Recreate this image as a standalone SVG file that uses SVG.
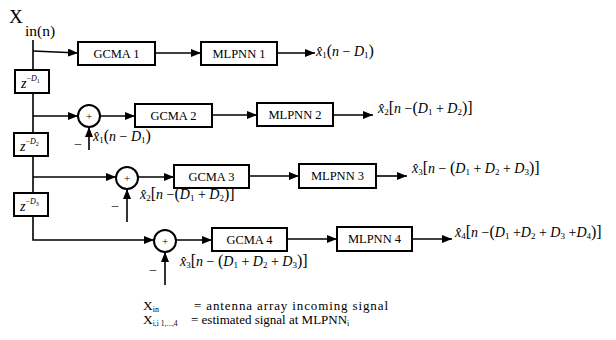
<svg xmlns="http://www.w3.org/2000/svg" width="616" height="340" viewBox="0 0 616 340" font-family="'Liberation Serif','Times New Roman',serif">
<style>
.box{fill:#fff;stroke:#000;stroke-width:2}
.lbl{font-family:"Liberation Serif","Times New Roman",serif;font-size:12.5px;text-anchor:middle;fill:#000}
.ln{fill:none;stroke:#000;stroke-width:1.6}
.m{font-family:"Liberation Serif","Times New Roman",serif;font-size:14px;fill:#000}
.i{font-style:italic}
.s{font-size:9px}
.p{font-size:16px}
.t{font-family:"Liberation Serif","Times New Roman",serif;fill:#000}
</style>
<defs>
<marker id="ah" markerWidth="10" markerHeight="8" refX="10" refY="4" orient="auto" markerUnits="userSpaceOnUse"><path d="M0,0 L10,4 L0,8 z" fill="#000"/></marker>
</defs>
<g id="connectors">
<path class="ln" d="M33,40 V240 H154" marker-end="url(#ah)"/>
<path class="ln" d="M33,51 L78,53" marker-end="url(#ah)"/>
<path class="ln" d="M155,53 H201" marker-end="url(#ah)"/>
<path class="ln" d="M277,53 H315" marker-end="url(#ah)"/>
<path class="ln" d="M33,116 H78" marker-end="url(#ah)"/>
<path class="ln" d="M100,116 H135" marker-end="url(#ah)"/>
<path class="ln" d="M212,115 H257" marker-end="url(#ah)"/>
<path class="ln" d="M333,115 H373" marker-end="url(#ah)"/>
<path class="ln" d="M89,150 V127" marker-end="url(#ah)"/>
<path class="ln" d="M33,177 H116" marker-end="url(#ah)"/>
<path class="ln" d="M138,177 H174" marker-end="url(#ah)"/>
<path class="ln" d="M249,176 H299" marker-end="url(#ah)"/>
<path class="ln" d="M376,176 H407" marker-end="url(#ah)"/>
<path class="ln" d="M127,222 V189" marker-end="url(#ah)"/>
<path class="ln" d="M176,240 H212" marker-end="url(#ah)"/>
<path class="ln" d="M287,239 H337" marker-end="url(#ah)"/>
<path class="ln" d="M412,239 H452" marker-end="url(#ah)"/>
<path class="ln" d="M165,285 V252" marker-end="url(#ah)"/>
</g>
<g id="input">
<text class="t" x="9" y="23" font-size="19">X</text>
<text class="t" x="25" y="36" font-size="15.5">in(n)</text>
</g>
<g id="z1"><rect class="box" x="15" y="70" width="34" height="23"/><text class="m" x="21" y="88" font-size="11"><tspan class="i">z</tspan><tspan font-size="8" dy="-7">−</tspan><tspan class="i" font-size="8">D</tspan><tspan font-size="6" dy="2">1</tspan></text></g>
<g id="z2"><rect class="box" x="14" y="133" width="34" height="23"/><text class="m" x="20" y="151" font-size="11"><tspan class="i">z</tspan><tspan font-size="8" dy="-7">−</tspan><tspan class="i" font-size="8">D</tspan><tspan font-size="6" dy="2">2</tspan></text></g>
<g id="z3"><rect class="box" x="14" y="193" width="34" height="23"/><text class="m" x="20" y="211" font-size="11"><tspan class="i">z</tspan><tspan font-size="8" dy="-7">−</tspan><tspan class="i" font-size="8">D</tspan><tspan font-size="6" dy="2">3</tspan></text></g>
<g id="gcma1"><rect class="box" x="78" y="42" width="77" height="23"/><text class="lbl" x="116.5" y="58">GCMA 1</text></g>
<g id="mlpnn1"><rect class="box" x="201" y="42" width="76" height="23"/><text class="lbl" x="239" y="58">MLPNN 1</text></g>
<g id="sum2"><circle class="box" cx="89" cy="116" r="11"/><text class="t" x="89" y="120" font-size="11" text-anchor="middle">+</text><text class="t" x="78" y="147" font-size="13" text-anchor="middle">–</text></g>
<g id="gcma2"><rect class="box" x="135" y="104" width="77" height="23"/><text class="lbl" x="173.5" y="120">GCMA 2</text></g>
<g id="mlpnn2"><rect class="box" x="257" y="103" width="76" height="23"/><text class="lbl" x="295" y="119">MLPNN 2</text></g>
<g id="sum3"><circle class="box" cx="127" cy="178" r="11"/><text class="t" x="127" y="182" font-size="11" text-anchor="middle">+</text><text class="t" x="115" y="209" font-size="13" text-anchor="middle">–</text></g>
<g id="gcma3"><rect class="box" x="174" y="165" width="75" height="23"/><text class="lbl" x="211.5" y="181">GCMA 3</text></g>
<g id="mlpnn3"><rect class="box" x="299" y="164" width="77" height="24"/><text class="lbl" x="337.5" y="180">MLPNN 3</text></g>
<g id="sum4"><circle class="box" cx="165" cy="241" r="11"/><text class="t" x="165" y="245" font-size="11" text-anchor="middle">+</text><text class="t" x="153" y="273" font-size="13" text-anchor="middle">–</text></g>
<g id="gcma4"><rect class="box" x="212" y="228" width="75" height="23"/><text class="lbl" x="249.5" y="244">GCMA 4</text></g>
<g id="mlpnn4"><rect class="box" x="337" y="227" width="75" height="24"/><text class="lbl" x="374.5" y="243">MLPNN 4</text></g>
<g id="labels">
<text class="m" x="316" y="56"><tspan class="i">x̂</tspan><tspan class="s" dy="2">1</tspan><tspan class="p" dy="-2">(</tspan><tspan class="i">n</tspan> − <tspan class="i">D</tspan><tspan class="s" dy="2">1</tspan><tspan class="p" dy="-2">)</tspan></text>
<text class="m" x="378" y="113"><tspan class="i">x̂</tspan><tspan class="s" dy="2">2</tspan><tspan class="p" dy="-2">[</tspan><tspan class="i">n</tspan> −<tspan class="p">(</tspan><tspan class="i">D</tspan><tspan class="s" dy="2">1</tspan><tspan dy="-2"> + </tspan><tspan class="i">D</tspan><tspan class="s" dy="2">2</tspan><tspan class="p" dy="-2">)]</tspan></text>
<text class="m" x="412" y="173"><tspan class="i">x̂</tspan><tspan class="s" dy="2">3</tspan><tspan class="p" dy="-2">[</tspan><tspan class="i">n</tspan> − <tspan class="p">(</tspan><tspan class="i">D</tspan><tspan class="s" dy="2">1</tspan><tspan dy="-2"> + </tspan><tspan class="i">D</tspan><tspan class="s" dy="2">2</tspan><tspan dy="-2"> + </tspan><tspan class="i">D</tspan><tspan class="s" dy="2">3</tspan><tspan class="p" dy="-2">)]</tspan></text>
<text class="m" x="455" y="237"><tspan class="i">x̂</tspan><tspan class="s" dy="2">4</tspan><tspan class="p" dy="-2">[</tspan><tspan class="i">n</tspan> −<tspan class="p">(</tspan><tspan class="i">D</tspan><tspan class="s" dy="2">1</tspan><tspan dy="-2"> +</tspan><tspan class="i">D</tspan><tspan class="s" dy="2">2</tspan><tspan dy="-2"> + </tspan><tspan class="i">D</tspan><tspan class="s" dy="2">3</tspan><tspan dy="-2"> +</tspan><tspan class="i">D</tspan><tspan class="s" dy="2">4</tspan><tspan class="p" dy="-2">)]</tspan></text>
<text class="m" x="93" y="141"><tspan class="i">x̂</tspan><tspan class="s" dy="2">1</tspan><tspan class="p" dy="-2">(</tspan><tspan class="i">n</tspan> − <tspan class="i">D</tspan><tspan class="s" dy="2">1</tspan><tspan class="p" dy="-2">)</tspan></text>
<text class="m" x="140" y="199"><tspan class="i">x̂</tspan><tspan class="s" dy="2">2</tspan><tspan class="p" dy="-2">[</tspan><tspan class="i">n</tspan> −<tspan class="p">(</tspan><tspan class="i">D</tspan><tspan class="s" dy="2">1</tspan><tspan dy="-2"> + </tspan><tspan class="i">D</tspan><tspan class="s" dy="2">2</tspan><tspan class="p" dy="-2">)]</tspan></text>
<text class="m" x="180" y="266"><tspan class="i">x̂</tspan><tspan class="s" dy="2">3</tspan><tspan class="p" dy="-2">[</tspan><tspan class="i">n</tspan> − <tspan class="p">(</tspan><tspan class="i">D</tspan><tspan class="s" dy="2">1</tspan><tspan dy="-2"> + </tspan><tspan class="i">D</tspan><tspan class="s" dy="2">2</tspan><tspan dy="-2"> + </tspan><tspan class="i">D</tspan><tspan class="s" dy="2">3</tspan><tspan class="p" dy="-2">)]</tspan></text>
</g>
<g id="legend">
<text class="t" x="143" y="310" font-size="13.5">X<tspan font-size="8" dy="2">in</tspan></text>
<text class="t" x="194" y="310" font-size="13" textLength="194">= antenna array incoming signal</text>
<text class="t" x="143" y="324" font-size="13.5">X<tspan font-size="7.5" dy="2">i,i 1,...,4</tspan></text>
<text class="t" x="191" y="324" font-size="13">= estimated signal at MLPNN<tspan font-size="8" dy="2">i</tspan></text>
</g>
</svg>
